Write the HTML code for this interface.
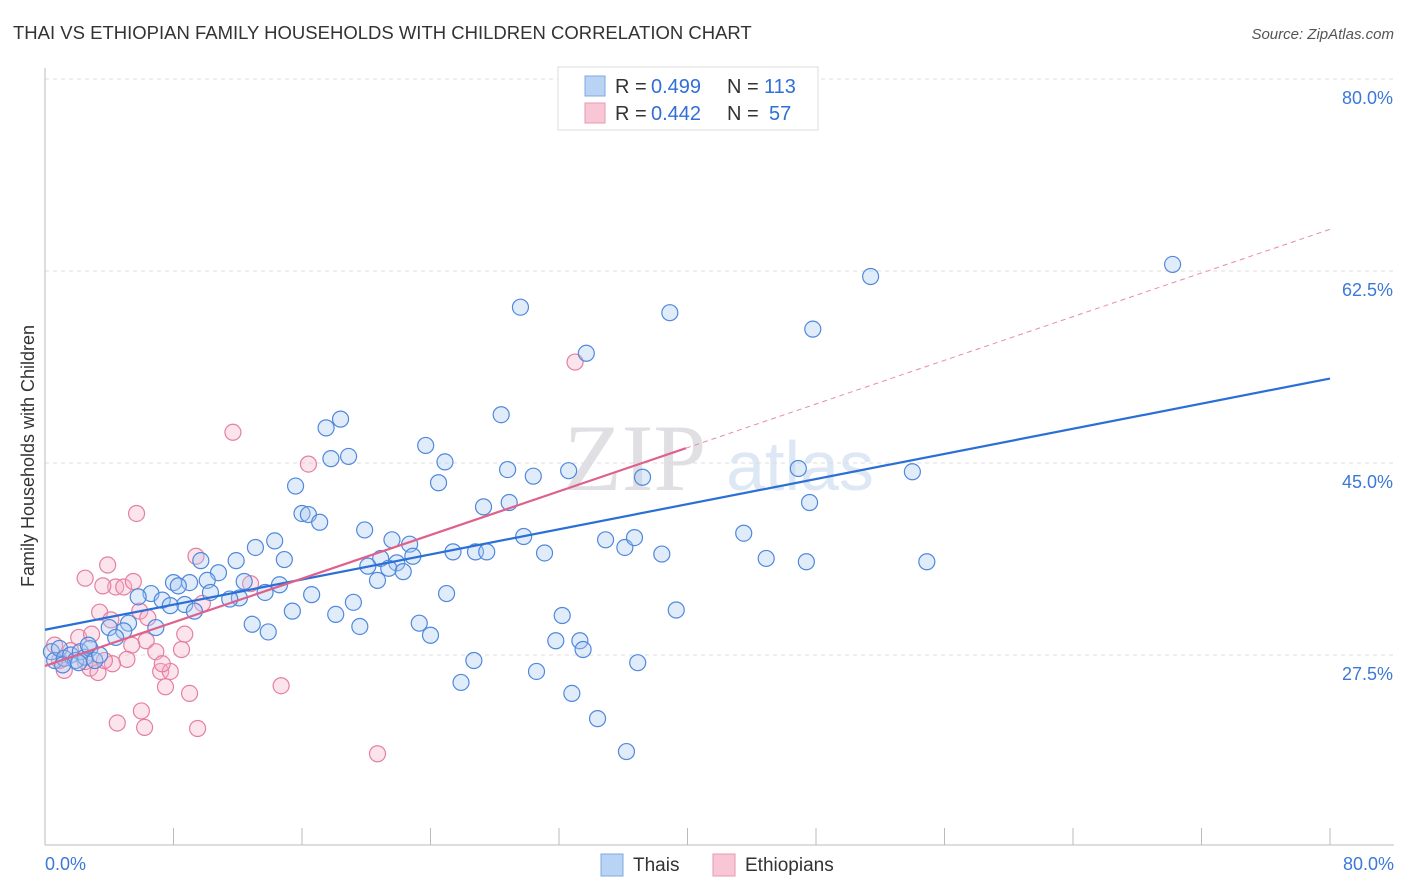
<!DOCTYPE html>
<html><head><meta charset="utf-8"><style>
body{margin:0;background:#fff;font-family:"Liberation Sans",sans-serif;}
svg{display:block}
</style></head><body>
<svg id="chart" width="1406" height="892">
<text x="13" y="39" font-size="18.5" fill="#333">THAI VS ETHIOPIAN FAMILY HOUSEHOLDS WITH CHILDREN CORRELATION CHART</text>
<text x="1394" y="39" font-size="15" fill="#555" font-style="italic" text-anchor="end">Source: ZipAtlas.com</text>
<text x="635" y="490" font-size="95" fill="#e0e0e4" font-family="Liberation Serif" text-anchor="middle">ZIP</text>
<text x="800" y="490" font-size="70" fill="#dde8f4" text-anchor="middle">atlas</text>
<text transform="translate(34,456) rotate(-90)" font-size="18" fill="#333" text-anchor="middle">Family Households with Children</text>
<g id="grid"></g><g id="marks"></g>
<g>
<rect x="558" y="67" width="260" height="63" fill="#fff" stroke="#ddd"/>
<rect x="585" y="76" width="20" height="20" fill="#b9d3f5" stroke="#7fa8e0"/>
<text x="615" y="93" font-size="20" fill="#333">R =</text>
<text x="651" y="93" font-size="20" fill="#2f6fd6">0.499</text>
<text x="727" y="93" font-size="20" fill="#333">N =</text>
<text x="764" y="93" font-size="20" fill="#2f6fd6">113</text>
<rect x="585" y="103" width="20" height="20" fill="#f9c6d6" stroke="#e89ab3"/>
<text x="615" y="120" font-size="20" fill="#333">R =</text>
<text x="651" y="120" font-size="20" fill="#2f6fd6">0.442</text>
<text x="727" y="120" font-size="20" fill="#333">N =</text>
<text x="769" y="120" font-size="20" fill="#2f6fd6">57</text>
</g>
<g>
<rect x="601" y="854" width="22" height="22" fill="#b9d3f5" stroke="#7fa8e0"/>
<text x="633" y="871" font-size="19" fill="#333">Thais</text>
<rect x="713" y="854" width="22" height="22" fill="#f9c6d6" stroke="#e89ab3"/>
<text x="745" y="871" font-size="19" fill="#333">Ethiopians</text>
</g>
</svg>
<script>
const yTicks=[27.5,45.0,62.5,80.0];
const xTickLabels=["0.0%","80.0%"];
const thaiX=[70.2,51.4,29.6,38.9,47.8,33.7,28.4,18.4,17.5,18.9,17.8,23.7,24.9,24.5,28.8,30.4,32.6,37.2,46.9,54.0,47.6,15.6,16.0,16.4,17.1,27.3,28.9,19.9,29.8,21.6,22.7,20.9,22.9,21.9,21.4,20.1,22.3,20.7,25.4,26.8,27.5,31.1,34.9,36.1,36.7,38.4,43.5,44.9,47.4,54.9,13.1,14.3,14.9,11.9,9.7,10.8,10.1,9.0,8.0,8.3,14.6,12.4,13.7,12.1,11.5,10.3,16.6,6.6,5.8,7.3,8.7,7.8,9.3,15.4,18.1,19.2,25.0,32.2,39.3,23.3,24.0,19.6,12.9,13.9,6.9,5.2,4.0,4.9,4.4,31.8,33.3,33.5,26.7,36.9,30.6,25.9,32.8,34.4,36.2,0.4,0.6,0.9,1.2,1.6,1.9,2.2,2.5,2.8,3.1,3.4,2.7,2.1,1.1];
const thaiY=[63.1,62.0,59.2,58.7,57.2,55.0,49.4,49.0,48.2,45.6,45.4,46.6,45.1,43.2,44.4,43.8,44.3,43.7,44.5,44.2,41.4,42.9,40.4,40.3,39.6,41.0,41.4,38.9,38.3,38.0,37.6,36.3,36.5,35.9,35.4,35.6,35.1,34.3,36.9,36.9,36.9,36.8,38.0,37.3,38.2,36.7,38.6,36.3,36.0,36.0,37.3,37.9,36.2,36.1,36.1,35.0,34.3,34.1,34.1,33.8,33.9,34.2,33.2,32.7,32.6,33.2,33.0,33.1,32.8,32.5,32.1,32.0,31.5,31.5,31.2,32.3,33.1,31.1,31.6,30.4,29.3,30.1,30.3,29.6,30.0,30.4,30.0,29.7,29.1,28.8,28.8,28.0,27.0,26.8,26.0,25.0,24.0,21.7,18.7,27.8,27.0,28.1,27.2,27.5,27.0,27.8,27.3,28.1,27.0,27.5,28.4,26.8,26.6];
const ethX=[33.0,11.7,16.4,5.7,9.4,3.9,2.5,4.4,3.6,4.9,5.5,12.8,9.8,5.9,6.4,3.4,4.1,8.7,6.3,5.4,2.1,2.9,6.9,8.5,5.1,4.2,7.2,7.8,7.3,7.5,9.0,14.7,6.0,4.5,6.2,9.5,20.7,2.8,3.3,1.2,0.6,1.6,0.9,2.5,3.7];
const ethY=[54.2,47.8,44.9,40.4,36.5,35.7,34.5,33.7,33.8,33.7,34.2,34.0,32.2,31.5,30.9,31.4,30.7,29.4,28.8,28.4,29.1,29.4,27.8,28.0,27.1,26.7,26.0,26.0,26.7,24.6,24.0,24.7,22.4,21.3,20.9,20.8,18.5,26.3,25.9,26.1,28.4,27.9,27.0,26.9,27.0];
const thaiFit=[29.8,52.7];
const ethFit=[26.5,66.3];
const ethFitSolidEnd=39.9;
const xs=v=>45+v*(1285/80), ys=v=>655-(v-27.5)*(192/17.5);
const NS="http://www.w3.org/2000/svg";
const grid=document.getElementById('grid'), marks=document.getElementById('marks');
function mk(tag,at,parent){const e=document.createElementNS(NS,tag);for(const k in at)e.setAttribute(k,at[k]);parent.appendChild(e);return e;}
yTicks.forEach(t=>{
 const l=mk('line',{x1:45,x2:1394,y1:ys(t),y2:ys(t),stroke:'#ddd','stroke-dasharray':'4,4'},grid);
 
 
 const tx=mk('text',{x:1393,y:ys(t)+25,'font-size':18,fill:'#3b78d8','text-anchor':'end'},grid);
 tx.textContent=t.toFixed(1)+'%';
 
 
});
const ax=mk('line',{x1:45,x2:45,y1:68,y2:845,stroke:'#bbb'},grid);


const bx=mk('line',{x1:45,x2:1394,y1:845,y2:845,stroke:'#bbb'},grid);


for(let i=0;i<=10;i++){const t=mk('line',{x1:xs(i*8),x2:xs(i*8),y1:828,y2:845,stroke:'#bbb'},grid);
 
 }
[[0,'start',45],[80,'end',1394]].forEach((d,i)=>{const t=mk('text',{x:d[2],y:870,'font-size':18,fill:'#3b78d8','text-anchor':d[1]},grid);t.textContent=xTickLabels[i];
 
 });
function dots(X,Y,fill,stroke,name){X.forEach((x,i)=>{const c=mk('circle',{cx:xs(x),cy:ys(Y[i]),r:8,fill:fill,'fill-opacity':0.35,stroke:stroke,'stroke-width':1.2},marks);
 
 });}
dots(ethX,ethY,'#f6b3c8','#e57fa1','ethiopian-point');
dots(thaiX,thaiY,'#a9c8f2','#4f88dd','thai-point');
const tl=mk('line',{x1:xs(0),y1:ys(thaiFit[0]),x2:xs(80),y2:ys(thaiFit[1]),stroke:'#2a6fd6','stroke-width':2.2},marks);


const eAt=x=>ethFit[0]+(ethFit[1]-ethFit[0])*x/80;
const el=mk('line',{x1:xs(0),y1:ys(ethFit[0]),x2:xs(ethFitSolidEnd),y2:ys(eAt(ethFitSolidEnd)),stroke:'#e0608c','stroke-width':2.2},marks);


const ed=mk('line',{x1:xs(ethFitSolidEnd),y1:ys(eAt(ethFitSolidEnd)),x2:xs(80),y2:ys(ethFit[1]),stroke:'#e88aa9','stroke-width':1,'stroke-dasharray':'5,4'},marks);


</script>
</body></html>
